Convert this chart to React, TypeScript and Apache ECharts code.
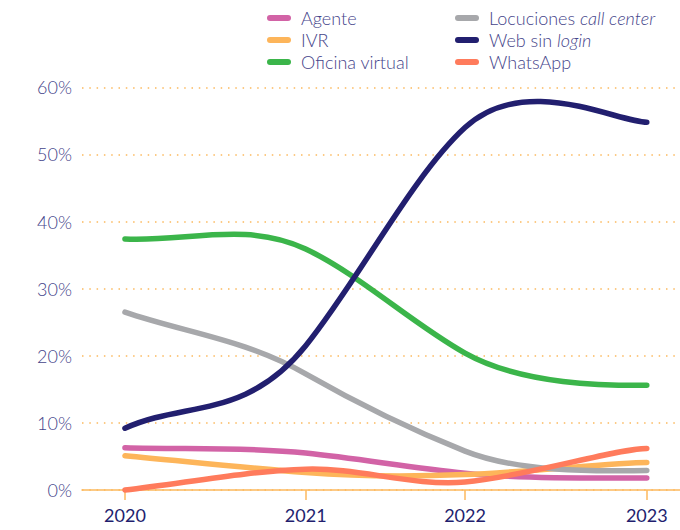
import React, { useEffect, useRef } from "react";
import * as echarts from "echarts";

// ---- Data ----
const yearLabels = ["2020", "2021", "2022", "2023"];
// horizontal position of each year on the axis (the ticks are not evenly spaced)
const xPositions = [2020, 2021.039, 2021.955, 2023];

const agente = [6.3, 5.5, 2.5, 1.8];
const ivr = [5.1, 2.6, 2.3, 4.1];
const oficinaVirtual = [37.4, 35.9, 20.4, 15.6];
const locuciones = [26.5, 17.3, 5.8, 2.9];
const webSinLogin = [9.2, 21.5, 54.0, 54.8];
const whatsapp = [0, 3.1, 1.2, 6.2];

const seriesNames = [
  "Agente",
  "IVR",
  "Oficina virtual",
  "Locuciones call center",
  "Web sin login",
  "WhatsApp",
];
const seriesValues = [agente, ivr, oficinaVirtual, locuciones, webSinLogin, whatsapp];
const seriesColors = ["#d263a6", "#fdb55a", "#3bb54a", "#a7a8ab", "#221f6f", "#ff7b5c"];

const FONT = "Lato";
const LABEL_COLOR = "#45448a";
const XLABEL_COLOR = "#221e6e";
const ORANGE = "#fcb95e";
const PILL = "path://M3,0H21A3,3 0 0 1 21,6H3A3,3 0 0 1 3,0Z";

// smooth curve through the projected points (cubic Hermite in x)
function curvePath(pts: number[][], s: number): string {
  const n = pts.length;
  const m: number[] = [];
  for (let i = 0; i < n; i++) {
    if (i === 0) m.push((pts[1][1] - pts[0][1]) / (pts[1][0] - pts[0][0]));
    else if (i === n - 1) m.push(0);
    else
      m.push((s * (pts[i + 1][1] - pts[i - 1][1])) / (pts[i + 1][0] - pts[i - 1][0]));
  }
  let d = `M${pts[0][0]},${pts[0][1]}`;
  for (let i = 0; i < n - 1; i++) {
    const h = pts[i + 1][0] - pts[i][0];
    const c1x = pts[i][0] + h / 3;
    const c1y = pts[i][1] + (m[i] * h) / 3;
    // last point: short horizontal handle
    const hh = i + 1 === n - 1 ? h / 6 : h / 3;
    const c2x = pts[i + 1][0] - hh;
    const c2y = pts[i + 1][1] - m[i + 1] * hh;
    d += `C${c1x},${c1y},${c2x},${c2y},${pts[i + 1][0]},${pts[i + 1][1]}`;
  }
  return d;
}

function legendFormatter(name: string) {
  if (name === "Locuciones call center") return "Locuciones {i|call center}";
  if (name === "Web sin login") return "Web sin {i|login}";
  return name;
}

const legendText = {
  color: LABEL_COLOR,
  fontSize: 18,
  fontFamily: FONT,
  fontWeight: 300,
  lineHeight: 20,
  padding: [0, 0, 0, 5],
  rich: {
    i: {
      fontStyle: "italic",
      fontSize: 18,
      fontWeight: 300,
      fontFamily: FONT,
      color: LABEL_COLOR,
    },
  },
};

export default function App() {
  const ref = useRef<HTMLDivElement>(null);
  useEffect(() => {
    document.body.style.margin = "0";
    if (!ref.current) return;
    const chart = echarts.init(ref.current, null, { renderer: "svg" });

    const series = seriesNames.map((name, si) => {
      const values = seriesValues[si];
      const color = seriesColors[si];
      return {
        name,
        type: "custom",
        itemStyle: { color },
        data: values.map((v, i) => [xPositions[i], v]),
        encode: { x: 0, y: 1 },
        renderItem: (params: any, api: any) => {
          if (params.dataIndex !== 0) return null;
          const pts = values.map((v, i) => api.coord([xPositions[i], v]));
          return {
            type: "path",
            shape: { pathData: curvePath(pts, 1.4) },
            style: {
              fill: "none",
              stroke: color,
              lineWidth: 5.5,
              lineCap: "round",
              lineJoin: "round",
            },
          };
        },
      };
    });

    const legendItem = (i: number) => ({
      name: seriesNames[i],
      icon: PILL,
      itemStyle: { color: seriesColors[i] },
    });

    const legendBase = {
      top: 3,
      orient: "vertical",
      itemWidth: 24,
      itemHeight: 6,
      itemGap: 2,
      selectedMode: false,
      formatter: legendFormatter,
      textStyle: legendText,
    };

    chart.setOption({
      animation: false,
      legend: [
        { ...legendBase, left: 262, data: [0, 1, 2].map(legendItem) },
        { ...legendBase, left: 450, data: [3, 4, 5].map(legendItem) },
      ],
      grid: { left: 82, right: 0, top: 87.3, bottom: 40, containLabel: false },
      xAxis: {
        type: "value",
        min: 2019.753,
        max: 2023.191,
        splitLine: { show: false },
        axisLine: { show: true, lineStyle: { color: ORANGE, width: 1.5 } },
        axisTick: {
          show: true,
          customValues: xPositions,
          length: 10,
          lineStyle: { color: ORANGE, width: 1.5 },
        },
        axisLabel: {
          customValues: xPositions,
          formatter: (v: number) => {
            let best = 0;
            xPositions.forEach((p, i) => {
              if (Math.abs(p - v) < Math.abs(xPositions[best] - v)) best = i;
            });
            return yearLabels[best];
          },
          color: XLABEL_COLOR,
          fontSize: 18,
          fontFamily: FONT,
          margin: 16,
        },
      },
      yAxis: {
        type: "value",
        min: 0,
        max: 60,
        interval: 10,
        axisLine: { show: false },
        axisTick: { show: false },
        axisLabel: {
          formatter: "{value}%",
          color: LABEL_COLOR,
          fontSize: 18,
          fontWeight: 300,
          fontFamily: FONT,
          margin: 10,
        },
        splitLine: {
          show: true,
          lineStyle: { color: ORANGE, width: 1.5, type: [1.5, 5.8] },
        },
      },
      series,
    });
    return () => chart.dispose();
  }, []);
  return (
    <div
      ref={ref}
      style={{ position: "absolute", left: 0, top: 0, width: 680, height: 530 }}
    />
  );
}
